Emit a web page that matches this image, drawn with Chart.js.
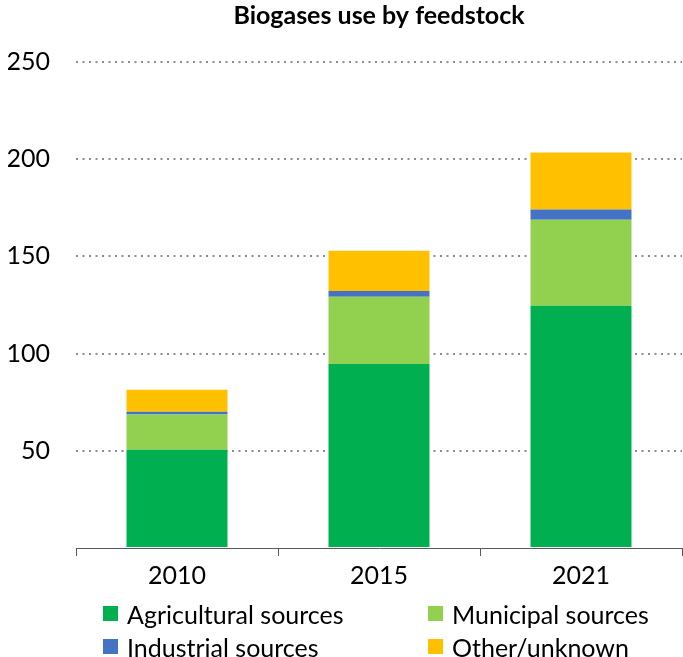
<!DOCTYPE html>
<html>
<head>
<meta charset="utf-8">
<script src="https://cdn.jsdelivr.net/npm/chart.js@4.4.1/dist/chart.umd.min.js"></script>
<style>
  body { margin: 0; background: #fff; }
  #wrap { position: relative; width: 683px; height: 657px; }
  #legend {
    position: absolute; left: 103px; top: 600px; width: 580px;
    display: grid; grid-template-columns: 325px 255px; row-gap: 6px;
    font-family: Lato, "Liberation Sans", sans-serif; font-size: 25px; color: #000;
  }
  .item { display: flex; align-items: center; height: 27px; white-space: nowrap; }
  .box { width: 15px; height: 15px; margin-right: 9px; }
</style>
</head>
<body>
<div id="wrap">
  <canvas id="chart" width="683" height="600"></canvas>
  <div id="legend"></div>
</div>
<script>
// Biogas use (by feedstock), stacked per year
const years = ['2010', '2015', '2021'];
const agricultural = [50.5, 94.7, 124.6];
const municipal = [18.2, 34.6, 44.2];
const industrial = [1.4, 2.9, 5.3];
const other = [11.3, 20.7, 29.3];
const yTicks = [50, 100, 150, 200, 250];

const font = 'Lato, "Liberation Sans", sans-serif';
const titleText = 'Biogases use by feedstock';

const series = [
  { label: 'Agricultural sources', data: agricultural, color: '#00B050' },
  { label: 'Municipal sources', data: municipal, color: '#92D050' },
  { label: 'Industrial sources', data: industrial, color: '#4472C4' },
  { label: 'Other/unknown', data: other, color: '#FFC000' }
];

// title centred over the plot area rather than the whole canvas
const plotTitle = {
  id: 'plotTitle',
  afterDraw(chart) {
    const { ctx, chartArea } = chart;
    ctx.save();
    ctx.font = 'bold 25px ' + font;
    ctx.fillStyle = '#000';
    ctx.textAlign = 'center';
    ctx.textBaseline = 'middle';
    ctx.fillText(titleText, (chartArea.left + chartArea.right) / 2, 16);
    ctx.restore();
  }
};

const ctx = document.getElementById('chart');

new Chart(ctx, {
  type: 'bar',
  data: {
    labels: years,
    datasets: series.map(s => ({
      label: s.label,
      data: s.data,
      backgroundColor: s.color,
      borderWidth: 0,
      barPercentage: 0.5,
      categoryPercentage: 1
    }))
  },
  plugins: [plotTitle],
  options: {
    responsive: false,
    animation: false,
    layout: { padding: { left: 8, right: 1, top: 62, bottom: 4 } },
    plugins: {
      legend: { display: false },
      tooltip: { enabled: false },
      title: { display: false }
    },
    scales: {
      x: {
        stacked: true,
        grid: {
          offset: true,
          drawOnChartArea: false,
          drawTicks: true,
          tickLength: 8,
          color: '#595959'
        },
        border: { display: true, color: '#595959', width: 1 },
        ticks: { color: '#000', font: { family: font, size: 25 }, padding: 5 }
      },
      y: {
        stacked: true,
        min: 0,
        max: 250,
        afterBuildTicks: axis => {
          axis.ticks = [0].concat(yTicks).map(v => ({ value: v }));
        },
        afterFit: axis => { axis.width = 68; },
        grid: {
          drawTicks: false,
          lineWidth: 2,
          color: c => (c.tick && c.tick.value === 0) ? 'rgba(0,0,0,0)' : '#8c8c8c'
        },
        border: { display: false, dash: [2, 4.5] },
        ticks: {
          color: '#000',
          font: { family: font, size: 25 },
          padding: 26,
          callback: v => (v === 0 ? '' : v)
        }
      }
    }
  }
});

// legend in two columns under the axis
const legend = document.getElementById('legend');
series.forEach(s => {
  const item = document.createElement('div');
  item.className = 'item';
  item.innerHTML = '<span class="box" style="background:' + s.color + '"></span>' + s.label;
  legend.appendChild(item);
});
</script>
</body>
</html>
